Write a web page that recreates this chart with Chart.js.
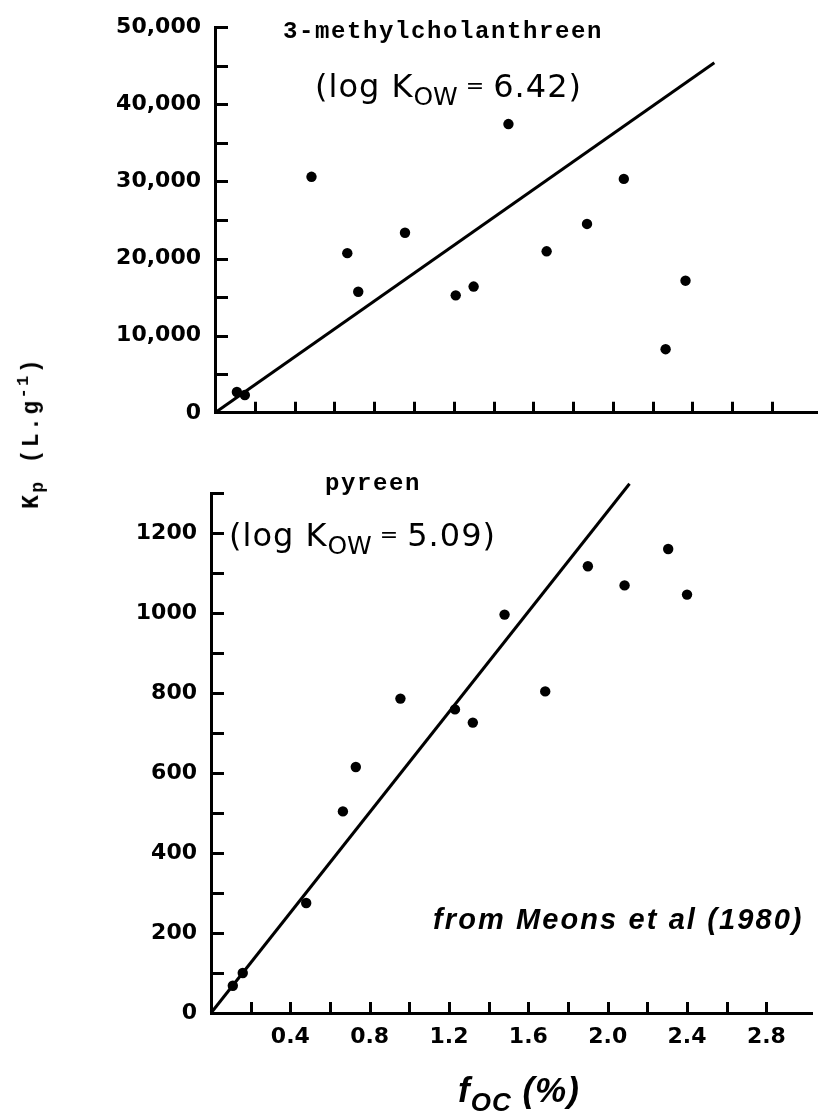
<!DOCTYPE html>
<html>
<head>
<meta charset="utf-8">
<script src="https://cdn.jsdelivr.net/npm/chart.js@4.4.1/dist/chart.umd.min.js"></script>
<style>
  html, body { margin: 0; padding: 0; background: #fff; }
  #page { position: relative; width: 823px; height: 1117px; overflow: hidden; background: #fff; }
  canvas { position: absolute; left: 0; }
  .note { position: absolute; white-space: nowrap; color: #000; line-height: 1; }
  .mono { font-family: "Liberation Mono", "DejaVu Sans Mono", monospace; font-weight: bold; font-size: 24px; letter-spacing: 1.6px; }
  .logk { font-family: "DejaVu Sans", sans-serif; font-size: 32px; letter-spacing: 1px; }
  .logk sub { font-size: 25px; vertical-align: -8px; letter-spacing: 0; }
  .logk .eq { font-size: 22px; vertical-align: 4px; }
  .src { font-family: "Liberation Sans", Arial, sans-serif; font-style: italic; font-weight: bold; font-size: 29px; letter-spacing: 2.1px; }
  .xt { font-family: "Liberation Sans", Arial, sans-serif; font-style: italic; font-weight: bold; font-size: 35px; letter-spacing: 1px; }
  .xt sub { font-size: 26px; vertical-align: -9px; }
  .yt { font-family: "Liberation Mono", monospace; font-weight: bold; font-size: 23px; letter-spacing: 2.4px; transform-origin: center; }
  .yt sub { font-size: 18px; vertical-align: -5px; }
  .yt sup { font-size: 17px; vertical-align: 10px; }
</style>
</head>
<body>
<div id="page">
  <canvas id="mcChart" width="823" height="440" style="top:0"></canvas>
  <canvas id="pyChart" width="823" height="677" style="top:440px"></canvas>

  <div class="note mono" style="left:283px; top:20px;">3-methylcholanthreen</div>
  <div class="note logk" style="left:315px; top:70px;">(log K<sub>OW</sub><span class="eq"> = </span>6.42)</div>
  <div class="note mono" style="left:325px; top:472px;">pyreen</div>
  <div class="note logk" style="left:229px; top:519px;">(log K<sub>OW</sub><span class="eq"> = </span>5.09)</div>
  <div class="note src" style="left:433px; top:905px;">from Meons et al (1980)</div>
  <div class="note xt" style="left:458px; top:1072px;">f<sub>OC</sub> (%)</div>
  <div class="note yt" id="ytitle">K<sub>p</sub> (L.g<sup>-1</sup>)</div>
</div>

<script>
// 3-methylcholanthreen, Kp vs foc
const mcFoc = [0.11, 0.15, 0.485, 0.665, 0.72, 0.955, 1.21, 1.30, 1.475, 1.667, 1.87, 2.055, 2.265, 2.365];
const mcKp = [2700, 2300, 30600, 20700, 15700, 23350, 15230, 16370, 37440, 20940, 24490, 30330, 8250, 17130];
const mcFitX = [0, 2.51];
const mcFitY = [0, 45400];

// pyreen, Kp vs foc
const pyFoc = [0.11, 0.16, 0.48, 0.665, 0.73, 0.955, 1.23, 1.32, 1.48, 1.685, 1.90, 2.085, 2.305, 2.40];
const pyKp = [68, 100, 275, 504, 615, 786, 759, 726, 996, 804, 1117, 1069, 1160, 1046];
const pyFitX = [0, 2.11];
const pyFitY = [0, 1323];

// tick labels
const xTickLabels = ["0.4", "0.8", "1.2", "1.6", "2.0", "2.4", "2.8"];
const mcTickLabels = ["0", "10,000", "20,000", "30,000", "40,000", "50,000"];
const pyTickLabels = ["0", "200", "400", "600", "800", "1000", "1200"];

const toPoints = (xs, ys) => xs.map((x, i) => ({ x, y: ys[i] }));

const labelFor = (list) => (value) => {
  const hit = list.find((l) => Math.abs(parseFloat(l.replace(/,/g, "")) - value) < 1e-6);
  return hit === undefined ? "" : hit;
};

const onStep = (v, step) => v > 0 && Math.abs(v / step - Math.round(v / step)) < 1e-6;

// tick marks pointing into the plot
const inwardTicks = {
  id: "inwardTicks",
  afterDraw(chart, args, opts) {
    const { ctx, chartArea, scales } = chart;
    ctx.save();
    ctx.strokeStyle = "#000";
    ctx.lineWidth = 3;
    ctx.beginPath();
    scales.y.ticks.forEach((t) => {
      if (!onStep(t.value, opts.yStep)) return;
      const py = Math.round(scales.y.getPixelForValue(t.value)) + 0.5;
      ctx.moveTo(chartArea.left, py);
      ctx.lineTo(chartArea.left + 13, py);
    });
    scales.x.ticks.forEach((t) => {
      if (!onStep(t.value, 0.2)) return;
      const px = Math.round(scales.x.getPixelForValue(t.value)) + 0.5;
      ctx.moveTo(px, chartArea.bottom);
      ctx.lineTo(px, chartArea.bottom - 11);
    });
    ctx.stroke();
    ctx.restore();
  },
};

const tickFont = { family: "'DejaVu Sans', sans-serif", size: 22, weight: "bold" };

function makeChart(id, pts, fit, opt) {
  return new Chart(document.getElementById(id).getContext("2d"), {
    type: "scatter",
    data: {
      datasets: [
        {
          data: pts,
          backgroundColor: "#000",
          borderWidth: 0,
          pointRadius: 5.2,
        },
        {
          type: "line",
          data: fit,
          borderColor: "#000",
          borderWidth: 3,
          pointRadius: 0,
          clip: false,
        },
      ],
    },
    options: {
      responsive: false,
      animation: false,
      layout: { padding: opt.padding },
      plugins: {
        legend: { display: false },
        tooltip: { enabled: false },
        inwardTicks: { yStep: opt.yStep },
      },
      scales: {
        x: {
          type: "linear",
          min: 0,
          max: 3.03,
          grid: { display: false, drawTicks: false },
          border: { display: true, color: "#000", width: 3 },
          ticks: {
            stepSize: 0.2,
            display: opt.showX,
            color: "#000",
            font: tickFont,
            padding: 11,
            maxRotation: 0,
            autoSkip: false,
            callback: labelFor(xTickLabels),
          },
          afterFit: (s) => { s.height = opt.xHeight; },
        },
        y: {
          type: "linear",
          min: 0,
          max: opt.yMax,
          grid: { display: false, drawTicks: false },
          border: { display: true, color: "#000", width: 3 },
          ticks: {
            stepSize: opt.yStep,
            color: "#000",
            font: tickFont,
            padding: 14,
            autoSkip: false,
            callback: labelFor(opt.yLabels),
          },
          afterFit: (s) => { s.width = opt.yWidth; },
        },
      },
    },
    plugins: [inwardTicks],
  });
}

makeChart("mcChart", toPoints(mcFoc, mcKp), toPoints(mcFitX, mcFitY), {
  padding: { top: 20, right: 2, bottom: 0, left: 0 },
  yMax: 50000,
  yStep: 5000,
  yLabels: mcTickLabels,
  yWidth: 215,
  xHeight: 25,
  showX: false,
});

makeChart("pyChart", toPoints(pyFoc, pyKp), toPoints(pyFitX, pyFitY), {
  padding: { top: 53, right: 6, bottom: 0, left: 0 },
  yMax: 1300,
  yStep: 100,
  yLabels: pyTickLabels,
  yWidth: 211,
  xHeight: 104,
  showX: true,
});

// rotated y title, centred at (31, 433)
const yt = document.getElementById("ytitle");
const w = yt.offsetWidth, h = yt.offsetHeight;
yt.style.left = (31 - w / 2) + "px";
yt.style.top = (433 - h / 2) + "px";
yt.style.transform = "rotate(-90deg)";
</script>
</body>
</html>
